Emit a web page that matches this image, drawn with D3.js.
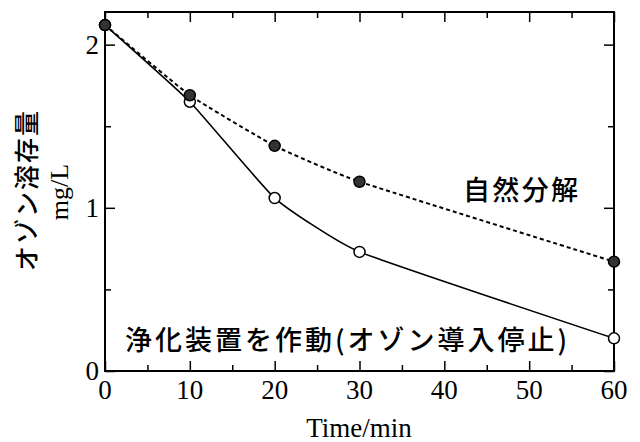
<!DOCTYPE html>
<html>
<head>
<meta charset="utf-8">
<script src="https://cdn.jsdelivr.net/npm/d3@7"></script>
<style>
	body { margin: 0; background: #fff; }
	svg { display: block; }
</style>
</head>
<body>
<div id="chart"></div>
<script>
const times = [0, 10, 20, 30, 60];
const natural = [2.12, 1.69, 1.38, 1.16, 0.67];
const purifier = [2.12, 1.65, 1.06, 0.73, 0.20];
const xTicks = [0, 10, 20, 30, 40, 50, 60];
const yTicks = [0, 1, 2];
const yLabel = 'オゾン溶存量';
const yUnit = 'mg/L';
const xLabel = 'Time/min';
const naturalLabel = '自然分解';
const purifierLabel = '浄化装置を作動(オゾン導入停止)';

const width = 640, height = 442;
const margin = { top: 12, right: 26, bottom: 71, left: 105 };

const svg = d3.select('#chart')
	.append('svg')
	.attr('width', width)
	.attr('height', height);

const x = d3.scaleLinear().domain([0, 60]).range([margin.left, width - margin.right]);
const y = d3.scaleLinear().domain([0, 2.2]).range([height - margin.bottom, margin.top]);

const serif = '"Liberation Serif", "DejaVu Serif", serif';
const gothic = '"Noto Sans CJK JP", "Noto Sans", sans-serif';

// inward ticks on all four sides
const minorX = d3.range(5, 60, 10);
const minorY = [0.5, 1.5];

const axisStyle = (g) => g.call((g) => g.select('.domain').remove())
	.call((g) => g.selectAll('line').attr('stroke', '#000').attr('stroke-width', 1.5));

svg.append('g')
	.attr('transform', `translate(0, ${y(0)})`)
	.call(d3.axisTop(x).tickValues(xTicks).tickSize(10).tickFormat(''))
	.call(axisStyle);
svg.append('g')
	.attr('transform', `translate(0, ${y(0)})`)
	.call(d3.axisTop(x).tickValues(minorX).tickSize(6).tickFormat(''))
	.call(axisStyle);
svg.append('g')
	.attr('transform', `translate(0, ${y(2.2)})`)
	.call(d3.axisBottom(x).tickValues(xTicks).tickSize(10).tickFormat(''))
	.call(axisStyle);
svg.append('g')
	.attr('transform', `translate(0, ${y(2.2)})`)
	.call(d3.axisBottom(x).tickValues(minorX).tickSize(6).tickFormat(''))
	.call(axisStyle);
svg.append('g')
	.attr('transform', `translate(${x(0)}, 0)`)
	.call(d3.axisRight(y).tickValues(yTicks).tickSize(10).tickFormat(''))
	.call(axisStyle);
svg.append('g')
	.attr('transform', `translate(${x(0)}, 0)`)
	.call(d3.axisRight(y).tickValues(minorY).tickSize(6).tickFormat(''))
	.call(axisStyle);
svg.append('g')
	.attr('transform', `translate(${x(60)}, 0)`)
	.call(d3.axisLeft(y).tickValues(yTicks).tickSize(10).tickFormat(''))
	.call(axisStyle);
svg.append('g')
	.attr('transform', `translate(${x(60)}, 0)`)
	.call(d3.axisLeft(y).tickValues(minorY).tickSize(6).tickFormat(''))
	.call(axisStyle);

// frame
svg.append('rect')
	.attr('x', x(0))
	.attr('y', y(2.2))
	.attr('width', x(60) - x(0))
	.attr('height', y(0) - y(2.2))
	.attr('fill', 'none')
	.attr('stroke', '#000')
	.attr('stroke-width', 2);

// tick labels
svg.append('g')
	.selectAll('text')
	.data(xTicks)
	.join('text')
	.attr('x', (d) => x(d))
	.attr('y', y(0) + 28)
	.attr('text-anchor', 'middle')
	.attr('font-family', serif)
	.attr('font-size', 27)
	.text((d) => d);

svg.append('g')
	.selectAll('text')
	.data(yTicks)
	.join('text')
	.attr('x', x(0) - 6)
	.attr('y', (d) => y(d))
	.attr('dy', '0.35em')
	.attr('text-anchor', 'end')
	.attr('font-family', serif)
	.attr('font-size', 27)
	.text((d) => d);

svg.append('text')
	.attr('x', 359)
	.attr('y', 437)
	.attr('text-anchor', 'middle')
	.attr('font-family', serif)
	.attr('font-size', 27)
	.text(xLabel);

svg.append('text')
	.attr('transform', 'translate(36, 190) rotate(-90)')
	.attr('text-anchor', 'middle')
	.attr('font-family', gothic)
	.attr('font-weight', 500)
	.attr('font-size', 25)
	.attr('letter-spacing', 2)
	.text(yLabel);

svg.append('text')
	.attr('transform', 'translate(68, 192) rotate(-90)')
	.attr('text-anchor', 'middle')
	.attr('font-family', serif)
	.attr('font-size', 26)
	.text(yUnit);

// lines
const line = (vals) => d3.line()
	.x((d, i) => x(times[i]))
	.y((d) => y(d))
	.curve(d3.curveCardinal.tension(0.6))(vals);

svg.append('path')
	.attr('d', line(natural))
	.attr('fill', 'none')
	.attr('stroke', '#000')
	.attr('stroke-width', 2)
	.attr('stroke-dasharray', '4,3');

svg.append('path')
	.attr('d', line(purifier))
	.attr('fill', 'none')
	.attr('stroke', '#000')
	.attr('stroke-width', 1.6);

svg.append('g')
	.selectAll('circle')
	.data(purifier)
	.join('circle')
	.attr('cx', (d, i) => x(times[i]))
	.attr('cy', (d) => y(d))
	.attr('r', 5.5)
	.attr('fill', '#fff')
	.attr('stroke', '#000')
	.attr('stroke-width', 1.5);

svg.append('g')
	.selectAll('circle')
	.data(natural)
	.join('circle')
	.attr('cx', (d, i) => x(times[i]))
	.attr('cy', (d) => y(d))
	.attr('r', 5.5)
	.attr('fill', '#333')
	.attr('stroke', '#000')
	.attr('stroke-width', 1.5);

// annotations
svg.append('text')
	.attr('x', 463)
	.attr('y', 200)
	.attr('font-family', gothic)
	.attr('font-weight', 500)
	.attr('font-size', 27)
	.attr('textLength', 115)
	.attr('lengthAdjust', 'spacing')
	.text(naturalLabel);

svg.append('text')
	.attr('x', 125)
	.attr('y', 350)
	.attr('font-family', gothic)
	.attr('font-weight', 500)
	.attr('font-size', 27)
	.attr('textLength', 442)
	.attr('lengthAdjust', 'spacing')
	.text(purifierLabel);
</script>
</body>
</html>
